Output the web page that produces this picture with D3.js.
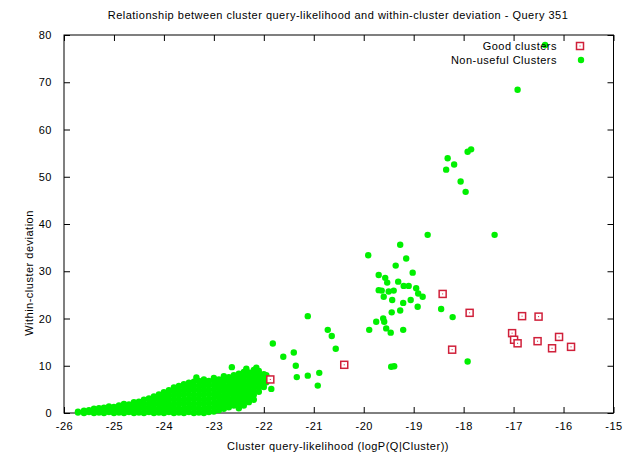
<!DOCTYPE html>
<html>
<head>
<meta charset="utf-8">
<script src="https://cdn.jsdelivr.net/npm/d3@7"></script>
<style>
  body { margin: 0; background: #fff; }
  svg text { font-family: "Liberation Sans", Arial, sans-serif; font-size: 11px; fill: #000; letter-spacing: 0.5px; }
</style>
</head>
<body>
<svg id="chart" width="626" height="456"></svg>
<script>
// chart texts
const chartTitle = 'Relationship between cluster query-likelihood and within-cluster deviation - Query 351';
const xTitle = 'Cluster query-likelihood (logP(Q|Cluster))';
const yTitle = 'Within-cluster deviation';
const legendLabels = ['Good clusters', 'Non-useful Clusters'];

// tick values
const xTicks = [-26, -25, -24, -23, -22, -21, -20, -19, -18, -17, -16, -15];
const yTicks = [0, 10, 20, 30, 40, 50, 60, 70, 80];

// good clusters [logP, deviation]
const goodClusters = [
  [-21.87, 7.1], [-20.39, 10.2], [-18.42, 25.2], [-17.88, 21.2], [-18.23, 13.4],
  [-16.83, 20.5], [-16.50, 20.4], [-17.03, 16.9], [-16.99, 15.5], [-16.92, 14.75],
  [-16.52, 15.2], [-16.09, 16.1], [-16.23, 13.7], [-15.85, 14.0]
];

// non-useful clusters, scattered ones
const nonUsefulSpread = [
  [-16.92, 68.4], [-16.37, 77.9], [-17.85, 55.8], [-17.92, 55.3], [-18.32, 53.9],
  [-18.19, 52.6], [-18.35, 51.5], [-18.06, 49.0], [-17.96, 46.8], [-18.72, 37.7],
  [-17.38, 37.7], [-19.27, 35.6], [-19.91, 33.4], [-19.15, 32.7], [-19.36, 31.2],
  [-19.02, 29.7], [-19.70, 29.2], [-19.57, 28.6], [-19.53, 27.6], [-19.31, 27.8],
  [-19.20, 26.9], [-19.10, 26.9], [-19.64, 25.9], [-19.50, 25.7], [-19.40, 25.9],
  [-18.95, 26.4], [-18.91, 25.3], [-18.82, 24.6], [-19.60, 24.6], [-19.43, 23.9],
  [-19.21, 23.3], [-19.06, 23.9], [-18.92, 22.5], [-18.45, 22.0], [-18.22, 20.3],
  [-19.27, 21.7], [-19.44, 21.3], [-19.61, 20.0], [-19.75, 19.3], [-19.59, 19.3],
  [-19.55, 17.9], [-19.46, 17.0], [-19.89, 17.6], [-19.21, 17.6], [-17.92, 10.9],
  [-19.45, 9.8], [-19.39, 9.9], [-19.70, 26.0], [-21.12, 20.5], [-20.72, 17.6],
  [-20.64, 16.3], [-20.56, 13.6], [-21.82, 14.7], [-21.40, 12.8], [-21.61, 11.9],
  [-21.36, 10.0], [-20.89, 8.5], [-21.12, 7.9], [-21.34, 7.6], [-20.92, 5.8],
  [-21.85, 5.1], [-22.64, 9.7]
];

// non-useful clusters, the dense group at low likelihood
const nonUsefulDense = [
  [-25.72, 0.1], [-25.72, 0.3], [-25.6, 0.0], [-25.6, 0.5], [-25.5, 0.2], [-25.5, 0.6],
  [-25.4, 0.0], [-25.4, 0.4], [-25.4, 0.9], [-25.3, 0.1], [-25.3, 0.7], [-25.3, 1.0],
  [-25.2, 0.0], [-25.2, 0.5], [-25.2, 1.1], [-25.1, 0.2], [-25.1, 0.8], [-25.1, 1.4],
  [-25.0, 0.0], [-25.0, 0.6], [-25.0, 1.3], [-24.9, 0.1], [-24.9, 0.9], [-24.9, 1.6],
  [-24.8, 0.0], [-24.8, 0.7], [-24.8, 1.5], [-24.8, 1.9], [-24.7, 0.2], [-24.7, 1.0],
  [-24.7, 1.8], [-24.6, 0.0], [-24.6, 0.8], [-24.6, 1.6], [-24.6, 2.3], [-24.5, 0.1],
  [-24.5, 0.9], [-24.5, 1.7], [-24.5, 2.4], [-24.4, 0.0], [-24.4, 1.0], [-24.4, 1.9],
  [-24.4, 2.8], [-24.3, 0.2], [-24.3, 1.1], [-24.3, 2.0], [-24.3, 3.1], [-24.2, 0.0],
  [-24.2, 0.9], [-24.2, 1.8], [-24.2, 2.7], [-24.2, 3.5], [-24.1, 0.1], [-24.1, 1.0],
  [-24.1, 2.0], [-24.1, 3.0], [-24.1, 3.9], [-24.0, 0.0], [-24.0, 0.8], [-24.0, 1.7],
  [-24.0, 2.6], [-24.0, 3.5], [-24.0, 4.4], [-23.9, 0.2], [-23.9, 1.1], [-23.9, 2.0],
  [-23.9, 2.9], [-23.9, 3.8], [-23.9, 4.8], [-23.8, 0.0], [-23.8, 0.9], [-23.8, 1.8],
  [-23.8, 2.8], [-23.8, 3.7], [-23.8, 4.6], [-23.8, 5.4], [-23.7, 0.1], [-23.7, 1.0],
  [-23.7, 2.0], [-23.7, 2.9], [-23.7, 3.9], [-23.7, 4.8], [-23.7, 5.7], [-23.6, 0.0],
  [-23.6, 0.9], [-23.6, 1.9], [-23.6, 2.8], [-23.6, 3.8], [-23.6, 4.7], [-23.6, 5.6],
  [-23.6, 6.1], [-23.5, 0.2], [-23.5, 1.1], [-23.5, 2.1], [-23.5, 3.0], [-23.5, 4.0],
  [-23.5, 4.9], [-23.5, 5.8], [-23.5, 6.4], [-23.4, 0.0], [-23.4, 1.0], [-23.4, 1.9],
  [-23.4, 2.9], [-23.4, 3.8], [-23.4, 4.8], [-23.4, 5.7], [-23.4, 6.6], [-23.3, 0.1],
  [-23.3, 1.0], [-23.3, 2.0], [-23.3, 3.0], [-23.3, 3.9], [-23.3, 4.9], [-23.3, 5.8],
  [-23.3, 6.8], [-23.35, 7.5], [-23.2, 0.0], [-23.2, 0.9], [-23.2, 1.9], [-23.2, 2.8],
  [-23.2, 3.8], [-23.2, 4.7], [-23.2, 5.6], [-23.2, 6.5], [-23.2, 7.1], [-23.1, 0.2],
  [-23.1, 1.1], [-23.1, 2.1], [-23.1, 3.0], [-23.1, 4.0], [-23.1, 4.9], [-23.1, 5.9],
  [-23.1, 6.8], [-23.0, 0.3], [-23.0, 1.2], [-23.0, 2.1], [-23.0, 3.1], [-23.0, 4.0],
  [-23.0, 5.0], [-23.0, 5.9], [-23.0, 6.8], [-23.0, 7.4], [-22.9, 0.6], [-22.9, 1.5],
  [-22.9, 2.4], [-22.9, 3.4], [-22.9, 4.3], [-22.9, 5.3], [-22.9, 6.2], [-22.9, 7.1],
  [-22.8, 0.9], [-22.8, 1.8], [-22.8, 2.7], [-22.8, 3.6], [-22.8, 4.6], [-22.8, 5.5],
  [-22.8, 6.4], [-22.8, 7.3], [-22.8, 7.8], [-22.7, 1.2], [-22.7, 2.1], [-22.7, 3.0],
  [-22.7, 4.0], [-22.7, 4.9], [-22.7, 5.8], [-22.7, 6.8], [-22.7, 7.6], [-22.6, 1.6],
  [-22.6, 2.5], [-22.6, 3.4], [-22.6, 4.4], [-22.6, 5.3], [-22.6, 6.2], [-22.6, 7.1],
  [-22.6, 8.0], [-22.5, 1.0], [-22.5, 2.0], [-22.5, 2.9], [-22.5, 3.9], [-22.5, 4.8],
  [-22.5, 5.7], [-22.5, 6.6], [-22.5, 7.5], [-22.5, 8.3], [-22.4, 1.6], [-22.4, 2.6],
  [-22.4, 3.5], [-22.4, 4.4], [-22.4, 5.3], [-22.4, 6.2], [-22.4, 7.1], [-22.4, 8.0],
  [-22.4, 8.7], [-22.35, 9.4], [-22.3, 2.3], [-22.3, 3.2], [-22.3, 4.1], [-22.3, 5.0],
  [-22.3, 5.9], [-22.3, 6.8], [-22.3, 7.7], [-22.3, 8.6], [-22.2, 2.8], [-22.2, 3.8],
  [-22.2, 4.7], [-22.2, 5.6], [-22.2, 6.5], [-22.2, 7.4], [-22.2, 8.3], [-22.2, 9.1],
  [-22.15, 9.6], [-22.1, 4.5], [-22.1, 5.4], [-22.1, 6.3], [-22.1, 7.2], [-22.1, 8.1],
  [-22.1, 8.9], [-22.0, 5.5], [-22.0, 6.4], [-22.0, 7.3], [-22.0, 8.2], [-21.95, 6.5],
  [-21.95, 8.0]
];

const green = '#00f000';
const red = '#d0203a';

const svg = d3.select('#chart');
const plotLeft = 64, plotRight = 613.5, plotTop = 35, plotBottom = 413;

const x = d3.scaleLinear().domain([-26, -15]).range([plotLeft, plotRight]);
const y = d3.scaleLinear().domain([0, 80]).range([plotBottom, plotTop]);

// axes, gnuplot style: ticks pointing in, on all four sides
svg.append('g')
  .attr('transform', `translate(0,${plotBottom})`)
  .call(d3.axisBottom(x).tickValues(xTicks).tickFormat(d => String(d)).tickSize(-6).tickPadding(9));
svg.append('g')
  .attr('transform', `translate(0,${plotTop})`)
  .call(d3.axisTop(x).tickValues(xTicks).tickFormat('').tickSize(-6));
svg.append('g')
  .attr('transform', `translate(${plotLeft},0)`)
  .call(d3.axisLeft(y).tickValues(yTicks).tickFormat(d => String(d)).tickSize(-6).tickPadding(12));
svg.append('g')
  .attr('transform', `translate(${plotRight},0)`)
  .call(d3.axisRight(y).tickValues(yTicks).tickFormat('').tickSize(-6));

svg.selectAll('.domain').remove();
svg.selectAll('.tick line').attr('stroke', '#000');
svg.selectAll('.tick text').attr('font-size', 11).attr('font-family', '"Liberation Sans", Arial, sans-serif');

svg.append('rect')
  .attr('x', plotLeft).attr('y', plotTop)
  .attr('width', plotRight - plotLeft).attr('height', plotBottom - plotTop)
  .attr('fill', 'none').attr('stroke', '#000').attr('stroke-width', 1);

// titles
svg.append('text').attr('x', 338).attr('y', 19).attr('text-anchor', 'middle').text(chartTitle);
svg.append('text').attr('x', 338).attr('y', 450).attr('text-anchor', 'middle').text(xTitle);
svg.append('text')
  .attr('transform', 'translate(33,273) rotate(-90)')
  .attr('text-anchor', 'middle')
  .text(yTitle);

// non-useful clusters
const allGreen = nonUsefulDense.concat(nonUsefulSpread);
svg.append('g').selectAll('circle')
  .data(allGreen)
  .join('circle')
  .attr('cx', d => x(d[0]))
  .attr('cy', d => y(d[1]))
  .attr('r', 3.2)
  .attr('fill', green);

// good clusters
function drawSquare(g, cx, cy) {
  g.append('rect')
    .attr('x', cx - 3.5).attr('y', cy - 3.5)
    .attr('width', 7).attr('height', 7)
    .attr('fill', '#fff').attr('stroke', red).attr('stroke-width', 1.5);
  g.append('rect')
    .attr('x', cx - 0.5).attr('y', cy - 0.5)
    .attr('width', 1).attr('height', 1)
    .attr('fill', red);
}
const goodG = svg.append('g');
goodClusters.forEach(d => drawSquare(goodG, x(d[0]), y(d[1])));

// legend
svg.append('text').attr('x', 557).attr('y', 50).attr('text-anchor', 'end').text(legendLabels[0]);
svg.append('text').attr('x', 557).attr('y', 64).attr('text-anchor', 'end').text(legendLabels[1]);
drawSquare(svg.append('g'), 580, 46);
svg.append('circle').attr('cx', 581).attr('cy', 60).attr('r', 3.2).attr('fill', green);
</script>
</body>
</html>
